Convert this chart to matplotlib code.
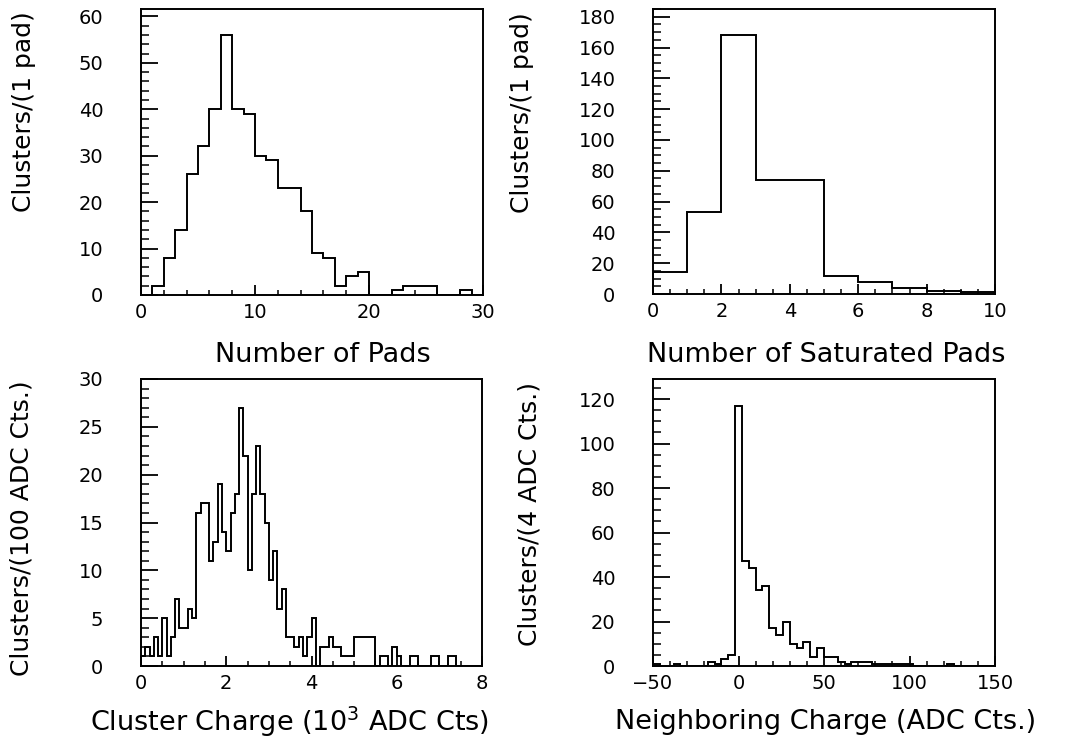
import numpy as np
import matplotlib.pyplot as plt
from matplotlib.ticker import MultipleLocator

# --- bin contents ---
# Number of pads per cluster, bins of 1 pad from 0 to 30
pads_counts = [0, 2, 8, 14, 26, 32, 40, 56, 40, 39,
               30, 29, 23, 23, 18, 9, 8, 2, 4, 5,
               0, 0, 1, 2, 2, 2, 0, 0, 1, 0]

# Number of saturated pads, bins of 1 from 0 to 10
sat_counts = [14, 53, 168, 74, 74, 12, 8, 4, 2, 1]

# Cluster charge (10^3 ADC counts), bins of 0.1 from 0 to 8
charge_counts = [1, 2, 1, 3, 1, 5, 1, 3, 7, 4,
                 4, 6, 5, 16, 17, 17, 11, 13, 19, 14,
                 12, 16, 18, 27, 22, 10, 18, 23, 18, 15,
                 9, 12, 6, 8, 3, 3, 2, 3, 1, 3,
                 5, 0, 2, 2, 3, 2, 2, 1, 1, 1,
                 3, 3, 3, 3, 3, 0, 1, 1, 0, 2,
                 1, 0, 0, 1, 1, 0, 0, 0, 1, 1,
                 0, 0, 1, 1, 0, 0, 0, 0, 0, 0]

# Neighboring charge (ADC counts), bins of 4 from -50 to 150
neigh_counts = [1, 0, 0, 1, 0, 0, 0, 0, 2, 1,
                3, 5, 117, 47, 44, 34, 36, 17, 14, 20,
                10, 8, 11, 4, 8, 4, 4, 2, 1, 2,
                2, 2, 1, 1, 1, 1, 1, 1, 0, 0,
                0, 0, 0, 1, 0, 0, 0, 0, 0, 0]

x_labels = ['Number of Pads', 'Number of Saturated Pads',
            'Cluster Charge (10$^{3}$ ADC Cts)', 'Neighboring Charge (ADC Cts.)']
y_labels = ['Clusters/(1 pad)', 'Clusters/(1 pad)',
            'Clusters/(100 ADC Cts.)', 'Clusters/(4 ADC Cts.)']

W, H = 1085, 745
plt.rcParams['font.family'] = 'DejaVu Sans'

fig = plt.figure(figsize=(W / 100, H / 100), dpi=100)

# (counts, xlo, xhi, ymax, x major, x minor, y major, y minor, axes box in px)
panels = [
    (pads_counts, 0, 30, 61.6, 10, 2, 10, 2, (141, 9, 483, 295)),
    (sat_counts, 0, 10, 185, 2, 0.5, 20, 5, (653, 9, 995, 294)),
    (charge_counts, 0, 8, 30, 2, 0.5, 5, 1, (141, 379, 482, 666)),
    (neigh_counts, -50, 150, 129, 50, 10, 20, 5, (653, 379, 995, 666)),
]
xlabel_pos = [(323, 355), (826, 355), (290, 722), (826, 722)]
ylabel_pos = [(24, 11), (522, 12), (22, 380), (530, 382)]

for i, (counts, lo, hi, ymax, xmaj, xmin, ymaj, ymin, box) in enumerate(panels):
    x0, y0, x1, y1 = box
    ax = fig.add_axes([x0 / W, 1 - y1 / H, (x1 - x0) / W, (y1 - y0) / H])
    edges = np.linspace(lo, hi, len(counts) + 1)
    ax.stairs(counts, edges, color='black', lw=1.4)
    ax.set_xlim(lo, hi)
    ax.set_ylim(0, ymax)

    ax.xaxis.set_major_locator(MultipleLocator(xmaj))
    ax.xaxis.set_minor_locator(MultipleLocator(xmin))
    ax.yaxis.set_major_locator(MultipleLocator(ymaj))
    ax.yaxis.set_minor_locator(MultipleLocator(ymin))
    ax.tick_params(axis='y', which='major', direction='in', length=12.5, width=1.3,
                   pad=27, labelsize=14)
    ax.tick_params(axis='y', which='minor', direction='in', length=5.5, width=1.1)
    ax.tick_params(axis='x', which='major', direction='in', length=7.5, width=1.3,
                   pad=6, labelsize=14)
    ax.tick_params(axis='x', which='minor', direction='in', length=3.6, width=1.1)
    for s in ax.spines.values():
        s.set_linewidth(1.4)

    fig.text(xlabel_pos[i][0] / W, 1 - xlabel_pos[i][1] / H, x_labels[i],
             ha='center', va='center', fontsize=19.5)
    fig.text(ylabel_pos[i][0] / W, 1 - ylabel_pos[i][1] / H, y_labels[i],
             rotation=90, ha='center', va='top', fontsize=18)

plt.savefig('out.png', dpi=100)
